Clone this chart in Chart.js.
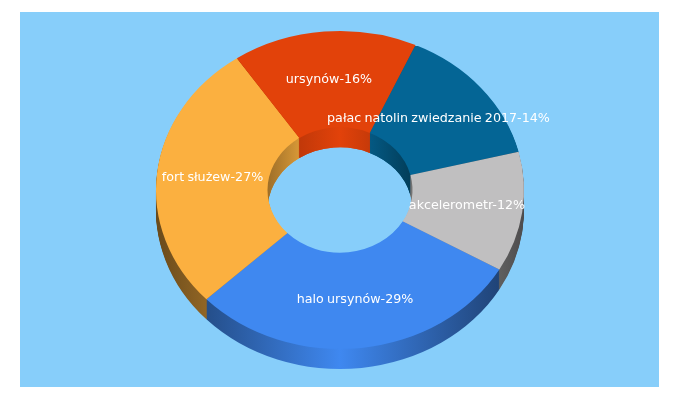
<!DOCTYPE html>
<html>
<head>
<meta charset="utf-8">
<style>
  html, body { margin: 0; padding: 0; background: #fff; }
  #wrap { position: absolute; left: 20px; top: 12px; width: 639px; height: 375px; background: #87cefa; }
  canvas { display: block; }
</style>
<script src="https://cdn.jsdelivr.net/npm/chart.js@4/dist/chart.umd.min.js"></script>
</head>
<body>
<div id="wrap"><canvas id="chart" width="639" height="375"></canvas></div>
<script>
const categories = ["halo ursynów", "fort służew", "ursynów", "pałac natolin zwiedzanie 2017", "akcelerometr"];
const sliceValues = [29.6, 27.6, 16.2, 14.4, 12.2];
const labelPercents = [29, 27, 16, 14, 12];
const sliceColors = ["#3f88f0", "#fbb040", "#e2420a", "#046595", "#c0bfc0"];

// the flat doughnut is squashed into an ellipse, then stacked to get the 3D wall
const CENTER_X = 320, CENTER_Y = 178;
const RADIUS_X = 184, RADIUS_Y = 159;
const DEPTH = 20;

function shade(hex, f) {
  const n = parseInt(hex.slice(1), 16);
  const r = Math.round((n >> 16) * f);
  const g = Math.round(((n >> 8) & 255) * f);
  const b = Math.round((n & 255) * f);
  return `rgb(${r},${g},${b})`;
}

function wallGradient(ctx, el, color, stops, sx) {
  const g = ctx.createLinearGradient(el.x - RADIUS_X / sx, 0, el.x + RADIUS_X / sx, 0);
  stops.forEach(([pos, f]) => g.addColorStop(pos, shade(color, f)));
  return g;
}

function applyFace(ctx, el, dy) {
  const sx = RADIUS_X / el.outerRadius;
  const sy = RADIUS_Y / el.outerRadius;
  ctx.translate(CENTER_X, CENTER_Y + dy);
  ctx.scale(sx, sy);
  ctx.translate(-el.x, -el.y);
}

const OUTER_STOPS = [[0, 0.42], [0.14, 0.58], [0.5, 1], [0.93, 0.5], [1, 0.4]];
const INNER_STOPS = [[0, 0.42], [0.3, 0.62], [0.386, 0.85], [0.5, 1], [0.58, 0.88], [0.694, 0.6], [1, 0.4]];

function drawWall(chart, stops) {
  const ctx = chart.ctx;
  const arcs = chart.getDatasetMeta(0).data;
  for (let d = DEPTH; d >= 1; d--) {
    arcs.forEach((el, i) => {
      const sx = RADIUS_X / el.outerRadius;
      const saved = el.options;
      ctx.save();
      applyFace(ctx, el, d);
      el.options = { ...saved, backgroundColor: wallGradient(ctx, el, sliceColors[i], stops, sx) };
      el.draw(ctx);
      el.options = saved;
      ctx.restore();
    });
  }
}

const wall3d = {
  id: "wall3d",
  beforeDatasetsDraw(chart) {
    const ctx = chart.ctx;
    const first = chart.getDatasetMeta(0).data[0];
    drawWall(chart, OUTER_STOPS);
    // inner wall seen through the hole has its own shading
    ctx.save();
    ctx.save();
    applyFace(ctx, first, 0);
    ctx.beginPath();
    ctx.arc(first.x, first.y, first.innerRadius, 0, Math.PI * 2);
    ctx.restore();
    ctx.clip();
    drawWall(chart, INNER_STOPS);
    ctx.restore();
    ctx.save();
    applyFace(ctx, first, 0);
  },
  afterDatasetsDraw(chart) {
    const ctx = chart.ctx;
    ctx.restore();
    const arcs = chart.getDatasetMeta(0).data;
    ctx.save();
    ctx.font = '12.7px "DejaVu Sans"';
    ctx.wordSpacing = "-0.8px";
    ctx.fillStyle = "#fff";
    ctx.textAlign = "center";
    ctx.textBaseline = "middle";
    arcs.forEach((el, i) => {
      const c = el.getCenterPoint();
      const x = CENTER_X + (c.x - el.x) * RADIUS_X / el.outerRadius;
      const y = CENTER_Y + (c.y - el.y) * RADIUS_Y / el.outerRadius;
      ctx.fillText(`${categories[i]}-${labelPercents[i]}%`, x, y);
    });
    ctx.restore();
  },
};

new Chart(document.getElementById("chart"), {
  type: "doughnut",
  data: {
    labels: categories,
    datasets: [{
      data: sliceValues,
      backgroundColor: sliceColors,
      borderWidth: 0,
      clip: false,
    }],
  },
  options: {
    responsive: false,
    animation: false,
    rotation: 120,
    cutout: "39.4%",
    plugins: { legend: { display: false }, tooltip: { enabled: false } },
  },
  plugins: [wall3d],
});
</script>
</body>
</html>
